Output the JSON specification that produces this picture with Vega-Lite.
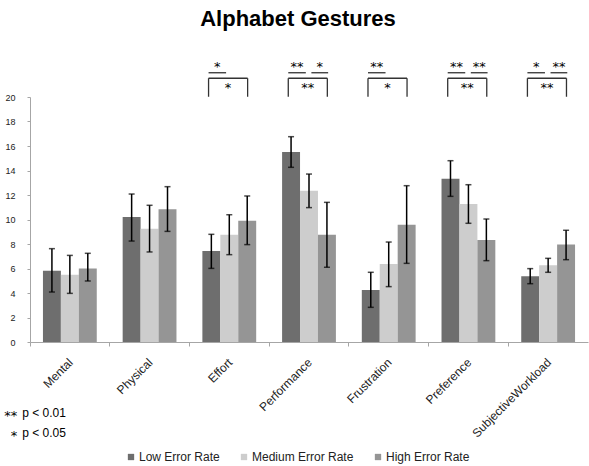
{
  "$schema": "https://vega.github.io/schema/vega-lite/v6.json",
  "width": 558,
  "height": 245,
  "autosize": {"type": "none"},
  "padding": {"top": 97, "left": 30, "right": 1, "bottom": 124},
  "background": "white",
  "title": {"text": "Alphabet Gestures", "font": "Liberation Sans", "fontSize": 22, "fontWeight": "bold", "color": "black", "anchor": "middle", "frame": "group", "dx": -11, "offset": 30},
  "config": {"view": {"stroke": null}, "font": "Liberation Sans",
             "axisY": {"title": null, "values": [0, 2, 4, 6, 8, 10, 12, 14, 16, 18, 20], "grid": false, "labelOverlap": false, "labelFlush": false,
                       "labelFont": "Liberation Sans", "labelFontSize": 9, "labelColor": "#222", "labelPadding": 12,
                       "domainColor": "#a6a6a6", "tickColor": "#a6a6a6", "tickSize": 3}},
  "datasets": {
    "bars": [
      {"cat": "Mental", "series": "Low Error Rate", "mean": 5.82, "lo": 4.08, "hi": 7.62},
      {"cat": "Mental", "series": "Medium Error Rate", "mean": 5.5, "lo": 3.97, "hi": 7.07},
      {"cat": "Mental", "series": "High Error Rate", "mean": 5.99, "lo": 4.98, "hi": 7.24},
      {"cat": "Physical", "series": "Low Error Rate", "mean": 10.2, "lo": 8.24, "hi": 12.08},
      {"cat": "Physical", "series": "Medium Error Rate", "mean": 9.25, "lo": 7.35, "hi": 11.16},
      {"cat": "Physical", "series": "High Error Rate", "mean": 10.83, "lo": 9.03, "hi": 12.68},
      {"cat": "Effort", "series": "Low Error Rate", "mean": 7.43, "lo": 6.01, "hi": 8.79},
      {"cat": "Effort", "series": "Medium Error Rate", "mean": 8.76, "lo": 7.13, "hi": 10.39},
      {"cat": "Effort", "series": "High Error Rate", "mean": 9.9, "lo": 7.95, "hi": 11.92},
      {"cat": "Performance", "series": "Low Error Rate", "mean": 15.51, "lo": 14.26, "hi": 16.76},
      {"cat": "Performance", "series": "Medium Error Rate", "mean": 12.35, "lo": 10.97, "hi": 13.71},
      {"cat": "Performance", "series": "High Error Rate", "mean": 8.76, "lo": 6.1, "hi": 11.4},
      {"cat": "Frustration", "series": "Low Error Rate", "mean": 4.24, "lo": 2.83, "hi": 5.69},
      {"cat": "Frustration", "series": "Medium Error Rate", "mean": 6.37, "lo": 4.52, "hi": 8.16},
      {"cat": "Frustration", "series": "High Error Rate", "mean": 9.58, "lo": 6.42, "hi": 12.76},
      {"cat": "Preference", "series": "Low Error Rate", "mean": 13.33, "lo": 11.89, "hi": 14.8},
      {"cat": "Preference", "series": "Medium Error Rate", "mean": 11.27, "lo": 9.69, "hi": 12.84},
      {"cat": "Preference", "series": "High Error Rate", "mean": 8.33, "lo": 6.64, "hi": 10.04},
      {"cat": "SubjectiveWorkload", "series": "Low Error Rate", "mean": 5.36, "lo": 4.76, "hi": 5.99},
      {"cat": "SubjectiveWorkload", "series": "Medium Error Rate", "mean": 6.26, "lo": 5.69, "hi": 6.83},
      {"cat": "SubjectiveWorkload", "series": "High Error Rate", "mean": 7.95, "lo": 6.72, "hi": 9.12}
    ],
    "hlines": [
      {"x": 2.24, "x2": 2.46, "y": 21.98},
      {"x": 2.24, "x2": 2.73, "y": 21.53},
      {"x": 3.24, "x2": 3.46, "y": 21.98},
      {"x": 3.53, "x2": 3.74, "y": 21.98},
      {"x": 3.24, "x2": 3.73, "y": 21.53},
      {"x": 4.24, "x2": 4.46, "y": 21.98},
      {"x": 4.24, "x2": 4.73, "y": 21.53},
      {"x": 5.24, "x2": 5.46, "y": 21.98},
      {"x": 5.53, "x2": 5.74, "y": 21.98},
      {"x": 5.24, "x2": 5.73, "y": 21.53},
      {"x": 6.24, "x2": 6.46, "y": 21.98},
      {"x": 6.53, "x2": 6.74, "y": 21.98},
      {"x": 6.24, "x2": 6.73, "y": 21.53}
    ],
    "vlines": [
      {"x": 2.24, "y": 20.02, "y2": 21.53}, {"x": 2.73, "y": 20.02, "y2": 21.53},
      {"x": 3.24, "y": 20.02, "y2": 21.53}, {"x": 3.73, "y": 20.02, "y2": 21.53},
      {"x": 4.24, "y": 20.02, "y2": 21.53}, {"x": 4.73, "y": 20.02, "y2": 21.53},
      {"x": 5.24, "y": 20.02, "y2": 21.53}, {"x": 5.73, "y": 20.02, "y2": 21.53},
      {"x": 6.24, "y": 20.02, "y2": 21.53}, {"x": 6.73, "y": 20.02, "y2": 21.53}
    ],
    "stars": [
      {"x": 2.35, "y": 22.7, "t": "*"},
      {"x": 2.485, "y": 20.98, "t": "*"},
      {"x": 3.35, "y": 22.7, "t": "**"},
      {"x": 3.635, "y": 22.7, "t": "*"},
      {"x": 3.485, "y": 20.98, "t": "**"},
      {"x": 4.35, "y": 22.7, "t": "**"},
      {"x": 4.485, "y": 20.98, "t": "*"},
      {"x": 5.35, "y": 22.7, "t": "**"},
      {"x": 5.635, "y": 22.7, "t": "**"},
      {"x": 5.485, "y": 20.98, "t": "**"},
      {"x": 6.35, "y": 22.7, "t": "*"},
      {"x": 6.635, "y": 22.7, "t": "**"},
      {"x": 6.485, "y": 20.98, "t": "**"}
    ],
    "notes": [
      {"x": -0.16, "y": -5.8, "t": "**", "p": "p < 0.01"},
      {"x": -0.16, "y": -7.45, "t": "*", "p": "p < 0.05"}
    ]
  },
  "layer": [
    {
      "data": {"name": "bars"},
      "layer": [
        {
          "mark": {"type": "bar"},
          "encoding": {
            "x": {"field": "cat", "type": "nominal", "sort": null,
                  "scale": {"paddingInner": 0.325, "paddingOuter": 0.1625},
                  "axis": {"title": null, "labelAngle": -45, "labelAlign": "right", "labelBaseline": "middle",
                           "bandPosition": -0.24, "labelOffset": 1, "labelPadding": 14,
                           "labelFont": "Liberation Sans", "labelFontSize": 12, "labelColor": "#222",
                           "domainColor": "#a6a6a6", "tickColor": "#a6a6a6", "tickSize": 4}},
            "xOffset": {"field": "series", "type": "nominal", "sort": ["Low Error Rate", "Medium Error Rate", "High Error Rate"], "scale": {"paddingInner": 0, "paddingOuter": 0}},
            "y": {"field": "mean", "type": "quantitative", "scale": {"domain": [0, 20], "nice": false}},
            "color": {"field": "series", "type": "nominal", "sort": ["Low Error Rate", "Medium Error Rate", "High Error Rate"],
                      "scale": {"domain": ["Low Error Rate", "Medium Error Rate", "High Error Rate"], "range": ["#6e6e6e", "#cdcdcd", "#959595"]},
                      "legend": {"title": null, "orient": "none", "legendX": 95, "legendY": 354, "direction": "horizontal",
                                 "symbolType": "square", "symbolSize": 40, "symbolStrokeWidth": 0, "labelFont": "Liberation Sans",
                                 "labelFontSize": 12, "labelColor": "#222", "labelOffset": 2, "columnPadding": 18}}
          }
        },
        {
          "mark": {"type": "rule", "color": "black", "strokeWidth": 1.5},
          "encoding": {
            "x": {"field": "cat", "type": "nominal", "sort": null},
            "xOffset": {"field": "series", "type": "nominal", "sort": ["Low Error Rate", "Medium Error Rate", "High Error Rate"]},
            "y": {"field": "lo", "type": "quantitative"},
            "y2": {"field": "hi"}
          }
        },
        {
          "mark": {"type": "tick", "color": "black", "thickness": 1.5, "size": 6},
          "encoding": {
            "x": {"field": "cat", "type": "nominal", "sort": null},
            "xOffset": {"field": "series", "type": "nominal", "sort": ["Low Error Rate", "Medium Error Rate", "High Error Rate"]},
            "y": {"field": "lo", "type": "quantitative"}
          }
        },
        {
          "mark": {"type": "tick", "color": "black", "thickness": 1.5, "size": 6},
          "encoding": {
            "x": {"field": "cat", "type": "nominal", "sort": null},
            "xOffset": {"field": "series", "type": "nominal", "sort": ["Low Error Rate", "Medium Error Rate", "High Error Rate"]},
            "y": {"field": "hi", "type": "quantitative"}
          }
        }
      ]
    },
    {
      "layer": [
        {
          "data": {"name": "hlines"},
          "mark": {"type": "rule", "color": "#333", "strokeWidth": 1.3},
          "encoding": {
            "x": {"field": "x", "type": "quantitative", "scale": {"domain": [0, 7], "nice": false, "zero": false}, "axis": null},
            "x2": {"field": "x2"},
            "y": {"field": "y", "type": "quantitative"}
          }
        },
        {
          "data": {"name": "vlines"},
          "mark": {"type": "rule", "color": "#333", "strokeWidth": 1.3},
          "encoding": {
            "x": {"field": "x", "type": "quantitative", "axis": null},
            "y": {"field": "y", "type": "quantitative"},
            "y2": {"field": "y2"}
          }
        },
        {
          "data": {"name": "stars"},
          "mark": {"type": "text", "font": "DejaVu Sans", "fontSize": 13, "baseline": "middle", "align": "center", "color": "black", "dy": 3},
          "encoding": {
            "x": {"field": "x", "type": "quantitative", "axis": null},
            "y": {"field": "y", "type": "quantitative"},
            "text": {"field": "t"}
          }
        },
        {
          "data": {"name": "notes"},
          "mark": {"type": "text", "font": "DejaVu Sans", "fontSize": 13, "baseline": "middle", "align": "right", "color": "black", "dy": 3},
          "encoding": {
            "x": {"field": "x", "type": "quantitative", "axis": null},
            "y": {"field": "y", "type": "quantitative"},
            "text": {"field": "t"}
          }
        },
        {
          "data": {"name": "notes"},
          "mark": {"type": "text", "font": "Liberation Sans", "fontSize": 12, "baseline": "middle", "align": "left", "color": "black", "dx": 5},
          "encoding": {
            "x": {"field": "x", "type": "quantitative", "axis": null},
            "y": {"field": "y", "type": "quantitative"},
            "text": {"field": "p"}
          }
        }
      ]
    }
  ],
  "resolve": {"scale": {"x": "independent"}}
}
